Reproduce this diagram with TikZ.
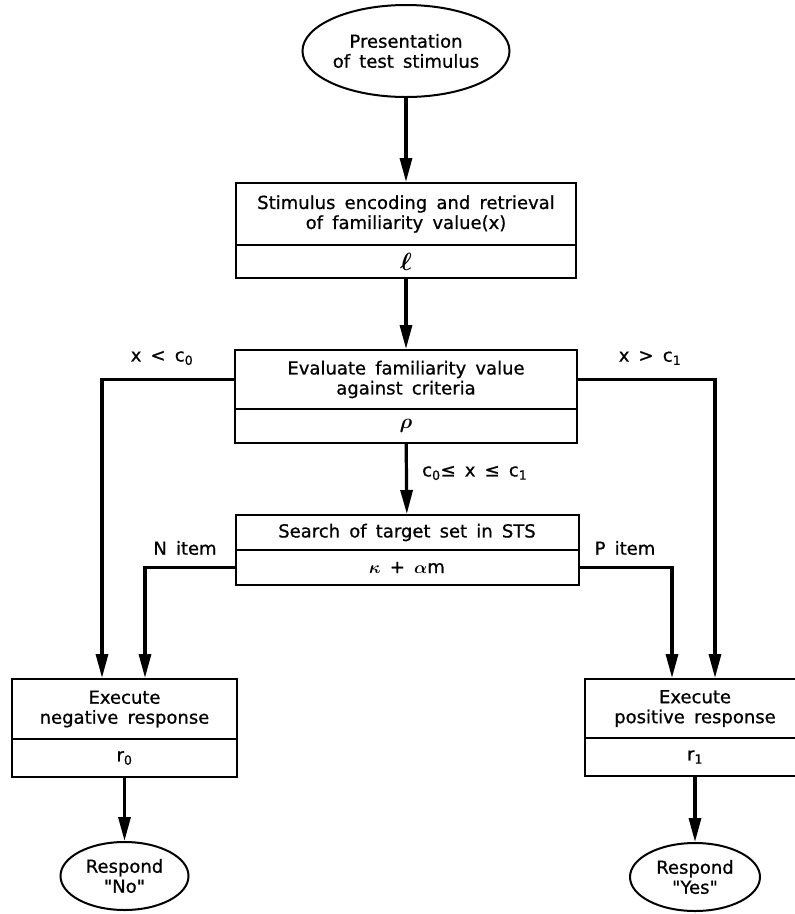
\documentclass[tikz,border=0pt]{standalone}
\usepackage{amsmath}
\usepackage{fontspec}
\setmainfont{DejaVu Sans}[WordSpace=1.6, FakeBold=0.8]
\newfontfamily\qfont{DejaVu Sans}[FakeBold=0.8]
\newcommand{\sq}{{\qfont\symbol{34}}}
\usetikzlibrary{shapes.geometric,arrows.meta}
\begin{document}
\begin{tikzpicture}[x=1pt,y=-1pt,
  every node/.style={font=\fontsize{18}{20}\selectfont, align=center, inner sep=0pt},
  blk/.style={draw, line width=2pt, rectangle, minimum width=#1},
  oval/.style={draw, line width=2pt, ellipse},
  conn/.style={line width=3.2pt},
  arr/.style={conn, -{Triangle[length=24pt,width=12pt]}}
]
\useasboundingbox (0,0) rectangle (795,914);

% top ellipse
\node[oval, minimum width=206pt, minimum height=92pt] (e0) at (406,51) {Presentation\\of test stimulus};

% box 1
\node[blk=340pt, minimum height=62pt] (b1) at (406,214) {Stimulus encoding and retrieval\\of familiarity value(x)};
\node[blk=340pt, minimum height=33pt] (b1p) at (406,261.5) {\fontsize{24}{24}\selectfont$\boldsymbol{\ell}$};

% box 2
\node[blk=342pt, minimum height=59pt] (b2) at (406,379.5) {Evaluate familiarity value\\against criteria};
\node[blk=342pt, minimum height=34pt] (b2p) at (406,426) {\fontsize{20}{20}\selectfont$\boldsymbol{\rho}$};

% box 3
\node[blk=343pt, minimum height=35pt] (b3) at (407,532.5) {Search of target set in STS};
\node[blk=343pt, minimum height=35pt] (b3p) at (407,567.5) {$\boldsymbol{\kappa}$ + $\boldsymbol{\alpha}$m};

% negative
\node[blk=225pt, minimum height=60pt] (neg) at (124.5,709) {Execute\\negative response};
\node[blk=225pt, minimum height=38pt] (negp) at (124.5,758) {r\textsubscript{0}};

% positive
\node[blk=220pt, minimum height=59pt] (pos) at (695,708.5) {Execute\\positive response};
\node[blk=220pt, minimum height=38pt] (posp) at (695,757) {r\textsubscript{1}};

% bottom ellipses
\node[oval, minimum width=128pt, minimum height=68pt] (eno) at (124.5,876) {Respond\\\sq No\sq};
\node[oval, minimum width=130pt, minimum height=68pt] (eyes) at (695,877) {Respond\\\sq Yes\sq};

% labels
\node (lx0) at (162,358) {x < c\textsubscript{0}};
\node (lx1) at (650,358) {x > c\textsubscript{1}};
\node[anchor=west] (lmid) at (422,473) {c\textsubscript{0}≤ x ≤ c\textsubscript{1}};
\node (ln) at (185,548) {N item};
\node (lp) at (625,548) {P item};

% connectors
\draw[arr] (e0) -- (b1);
\draw[arr] (b1p) -- (b2);
\draw[arr] (b2p) -- (b3);
\draw[arr] (b2.west) -| ([xshift=-22.5pt]neg.north);
\draw[arr] (b2.east) -| ([xshift=20pt]pos.north);
\draw[arr] (b3p.west) -| ([xshift=20.5pt]neg.north);
\draw[arr] (b3p.east) -| ([xshift=-23pt]pos.north);
\draw[arr] (negp) -- (eno);
\draw[arr] (posp) -- (eyes);
\end{tikzpicture}
\end{document}
